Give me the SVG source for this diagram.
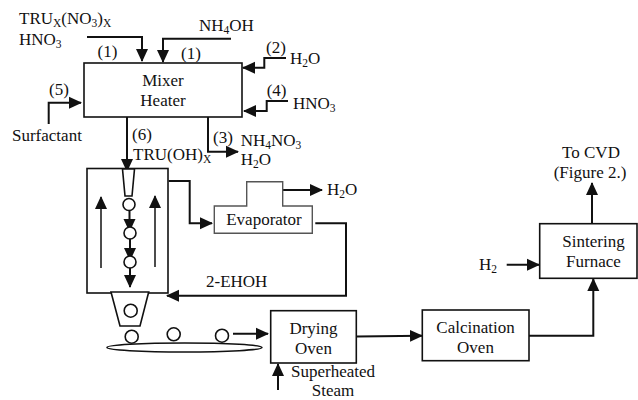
<svg xmlns="http://www.w3.org/2000/svg" width="638" height="400" viewBox="0 0 638 400">
<style>
text{font-family:"Liberation Serif","Times New Roman",serif;font-size:17px;fill:#111}
.m{text-anchor:middle}
.s{font-size:11.5px}
.b{fill:#fff;stroke:#111;stroke-width:1.6}
.g{fill:#fff;stroke:#555;stroke-width:1.4}
.c{fill:none;stroke:#111;stroke-width:2;marker-end:url(#a)}
.t{fill:none;stroke:#111;stroke-width:1.5;marker-end:url(#a)}
</style>
<defs>
<marker id="a" markerUnits="userSpaceOnUse" markerWidth="14" markerHeight="14" viewBox="0 0 14 14" refX="12" refY="7" orient="auto">
<path d="M0 1 L13 7 L0 13 Z" fill="#111"/>
</marker>
</defs>
<rect width="638" height="400" fill="#fff"/>
<g id="connectors">
<path class="c" d="M87 37H142V61"/>
<path class="c" d="M231 38.700H163V62"/>
<path class="c" d="M286 58H264.300V67.700H243"/>
<path class="c" d="M288 101H266.700V111H244"/>
<path class="c" d="M48.700 124V102.700H81"/>
<path class="c" d="M127 117V171"/>
<path class="c" d="M208 117V151.700H238"/>
<path class="c" d="M168.700 181H189.700V223.300H212"/>
<path class="c" d="M282.700 190H322"/>
<path class="c" d="M315.300 223.300H346V295.700H167"/>
<path class="c" d="M233 333.700H268"/>
<path class="c" d="M278 390V364"/>
<path class="c" d="M357 336.500L422 335.700"/>
<path class="c" d="M529 335.700H593.300V279"/>
<path class="c" d="M592 223.700V183"/>
<path class="c" d="M506.700 264.700H539"/>
</g>
<g id="mixer-heater">
<rect class="b" x="84" y="63" width="158" height="54"/>
<text class="m" x="163" y="86">Mixer</text>
<text class="m" x="163" y="106">Heater</text>
</g>
<g id="column">
<rect class="b" x="87" y="168.500" width="81" height="124.500"/>
<polygon class="b" points="122.500,169 134.500,169 132,196 125,196"/>
<path class="t" d="M101 268V197"/>
<path class="t" d="M155 267V196"/>
<path class="c" d="M129.500 210V231"/>
<path class="c" d="M130 239V260"/>
<path class="c" d="M130 268V287"/>
<circle class="b" cx="129" cy="204.500" r="6"/>
<circle class="b" cx="130" cy="233" r="6"/>
<circle class="b" cx="130" cy="262" r="6"/>
</g>
<g id="hopper">
<polygon class="b" points="111,292 148.700,292 140,326 120,326"/>
<circle class="b" cx="130.700" cy="310.700" r="6.500"/>
</g>
<g id="conveyor">
<ellipse class="b" cx="184.500" cy="347.500" rx="77.500" ry="4.500"/>
<circle class="b" cx="131.700" cy="336.700" r="6.500"/>
<circle class="b" cx="173.700" cy="334.300" r="6.500"/>
<circle class="b" cx="222" cy="335.700" r="6.500"/>
</g>
<g id="evaporator">
<polygon class="g" points="214.300,206 246.700,206 246.700,181.700 282.700,181.700 282.700,206 312.300,206 312.300,233.300 214.300,233.300"/>
<text class="m" x="264" y="225">Evaporator</text>
</g>
<g id="drying-oven">
<rect class="b" x="270.700" y="310.700" width="85.600" height="52.300"/>
<text class="m" x="313.500" y="334">Drying</text>
<text class="m" x="313.500" y="354">Oven</text>
</g>
<g id="calcination-oven">
<rect class="b" x="422.300" y="310" width="106.700" height="50.700"/>
<text class="m" x="475.500" y="333">Calcination</text>
<text class="m" x="475.500" y="353">Oven</text>
</g>
<g id="sintering-furnace">
<rect class="b" x="539.700" y="223.700" width="97.300" height="54.600"/>
<text class="m" x="593.500" y="247">Sintering</text>
<text class="m" x="593.500" y="267">Furnace</text>
</g>
<g id="labels">
<text x="19" y="24">TRU<tspan class="s" dy="3">X</tspan><tspan dy="-3">(NO</tspan><tspan class="s" dy="3">3</tspan><tspan dy="-3">)</tspan><tspan class="s" dy="3">X</tspan></text>
<text x="19" y="45">HNO<tspan class="s" dy="3">3</tspan></text>
<text x="199" y="31">NH<tspan class="s" dy="3">4</tspan><tspan dy="-3">OH</tspan></text>
<text x="97.500" y="57">(1)</text>
<text x="181" y="59">(1)</text>
<text x="266" y="53">(2)</text>
<text x="290" y="64">H<tspan class="s" dy="3">2</tspan><tspan dy="-3">O</tspan></text>
<text x="266.700" y="96">(4)</text>
<text x="293" y="109">HNO<tspan class="s" dy="3">3</tspan></text>
<text x="49" y="95">(5)</text>
<text x="12" y="141">Surfactant</text>
<text x="132" y="140">(6)</text>
<text x="133" y="160">TRU(OH)<tspan class="s" dy="3">X</tspan></text>
<text x="213" y="143">(3)</text>
<text x="240.700" y="146">NH<tspan class="s" dy="3">4</tspan><tspan dy="-3">NO</tspan><tspan class="s" dy="3">3</tspan></text>
<text x="240.700" y="165">H<tspan class="s" dy="3">2</tspan><tspan dy="-3">O</tspan></text>
<text x="327" y="195">H<tspan class="s" dy="3">2</tspan><tspan dy="-3">O</tspan></text>
<text x="206" y="287">2-EHOH</text>
<text class="m" x="333" y="377">Superheated</text>
<text class="m" x="333" y="396">Steam</text>
<text x="479" y="270">H<tspan class="s" dy="3">2</tspan></text>
<text class="m" x="591" y="158">To CVD</text>
<text class="m" x="590" y="178">(Figure 2.)</text>
</g>
</svg>
